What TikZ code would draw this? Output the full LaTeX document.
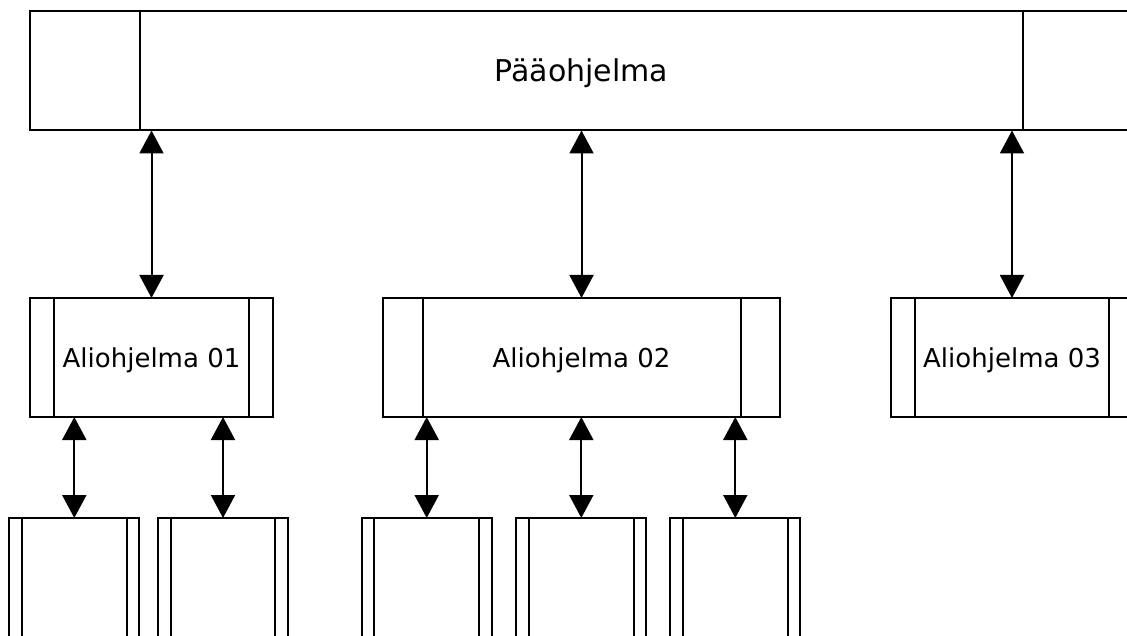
\documentclass[tikz,border=0pt]{standalone}
\usepackage{fontspec}
\setmainfont{DejaVu Sans}
\usetikzlibrary{arrows.meta}
\tikzset{
  % program block with a vertical bar inset from each side
  prog/.style={draw, rectangle, line width=2pt, inner sep=0pt, outer sep=0pt,
    font=\fontsize{26}{30}\selectfont, text height=19pt, text depth=0pt,
    path picture={
      \draw[line width=2pt]
        ([xshift=#1]path picture bounding box.north west) -- ([xshift=#1]path picture bounding box.south west)
        ([xshift=-#1]path picture bounding box.north east) -- ([xshift=-#1]path picture bounding box.south east);
    }},
  link/.style={line width=2pt, {Triangle[length=23pt,width=24pt]}-{Triangle[length=23pt,width=24pt]}}
}
\begin{document}
\begin{tikzpicture}[x=1pt, y=-1pt]
  \useasboundingbox (0,0) rectangle (1127,636);
  \clip (0,0) rectangle (1127,636);

  % main program
  \node[prog=110pt, minimum width=1103pt, minimum height=119pt,
        font=\fontsize{30}{36}\selectfont, text height=21.8pt] (main) at (581.5,71) {Pääohjelma};

  % subprograms
  \node[prog=24pt, minimum width=243pt, minimum height=119pt] (a1) at (151.5,357.5) {Aliohjelma 01};
  \node[prog=39.5pt, minimum width=397pt, minimum height=119pt] (a2) at (581.5,357.5) {Aliohjelma 02};
  \node[prog=24pt, minimum width=242pt, minimum height=119pt] (a3) at (1012,357.5) {Aliohjelma 03};

  % lower-level routines
  \node[prog=12.7pt, minimum width=130pt, minimum height=119pt] (l1) at (74.3,577.5) {};
  \node[prog=12.7pt, minimum width=130pt, minimum height=119pt] (l2) at (223,577.5) {};
  \node[prog=12.7pt, minimum width=130pt, minimum height=119pt] (l3) at (426.7,577.5) {};
  \node[prog=12.7pt, minimum width=130pt, minimum height=119pt] (l4) at (581.3,577.5) {};
  \node[prog=12.7pt, minimum width=130pt, minimum height=119pt] (l5) at (735.3,577.5) {};

  % calls between levels
  \draw[link] (a1.north |- main.south) -- (a1.north);
  \draw[link] (a2.north |- main.south) -- (a2.north);
  \draw[link] (a3.north |- main.south) -- (a3.north);

  \draw[link] (l1.north |- a1.south) -- (l1.north);
  \draw[link] (l2.north |- a1.south) -- (l2.north);
  \draw[link] (l3.north |- a2.south) -- (l3.north);
  \draw[link] (l4.north |- a2.south) -- (l4.north);
  \draw[link] (l5.north |- a2.south) -- (l5.north);
\end{tikzpicture}
\end{document}
